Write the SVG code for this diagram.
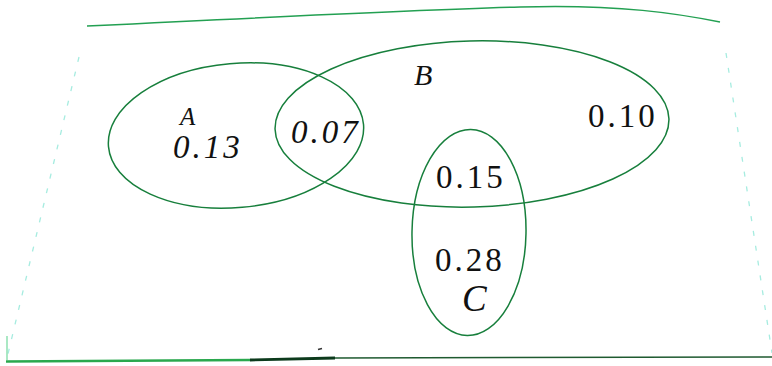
<svg xmlns="http://www.w3.org/2000/svg" width="772" height="366" viewBox="0 0 772 366">
<style>
.set{fill:none;stroke:#177f3c;stroke-width:1.5}
.edge{fill:none;stroke:#23a052;stroke-width:1.5}
.faint{fill:none;stroke:#a6ece0;stroke-width:1.3;stroke-dasharray:5 10}
.num{font-family:'Liberation Serif','Times New Roman',Tinos,serif;font-size:33px;fill:#111;letter-spacing:3px}
.lab{font-family:'Liberation Serif','Times New Roman',Tinos,serif;font-style:italic;fill:#111}
</style>
<rect width="772" height="366" fill="#ffffff"/>
<g id="sheet">
<path class="edge" d="M87 26 C 250 18, 420 10, 520 7 S 680 14, 720 22"/>
<path class="faint" d="M726 53 L772 353"/>
<path class="faint" d="M79 57 L7 358"/>
<path fill="none" stroke="#8ee0b0" stroke-width="1.5" d="M7 336 L7 360"/>
<path fill="none" stroke="#2aa84e" stroke-width="2.6" d="M6 361.5 L250 360"/>
<path fill="none" stroke="#0c3a1c" stroke-width="2.8" d="M250 360 L335 358"/>
<path fill="none" stroke="#1f5a30" stroke-width="1.5" d="M335 358 L772 357"/>
<path fill="none" stroke="#333" stroke-width="1.6" d="M318 349.5 L322 348.5"/>
</g>
<g id="connectors"></g>
<g id="setA">
<ellipse class="set" cx="236" cy="135.5" rx="128" ry="72" transform="rotate(-5 236 135.5)"/>
<text class="lab" x="180" y="125" font-size="25">A</text>
<text class="num" x="173" y="158" font-style="italic">0.13</text>
</g>
<g id="setB">
<ellipse class="set" cx="472" cy="124" rx="197" ry="83" transform="rotate(-1.5 472 124)"/>
<text class="lab" x="414" y="85" font-size="30">B</text>
<text class="num" x="588" y="127">0.10</text>
</g>
<g id="setC">
<ellipse class="set" cx="469" cy="232.5" rx="57" ry="103" transform="rotate(1 469 232.5)"/>
<text class="num" x="436" y="188">0.15</text>
<text class="num" x="435" y="271" font-size="34">0.28</text>
<text class="lab" x="462" y="311" font-size="37">C</text>
</g>
<g id="AB">
<text class="num" x="291" y="143" font-style="italic">0.07</text>
</g>
</svg>
